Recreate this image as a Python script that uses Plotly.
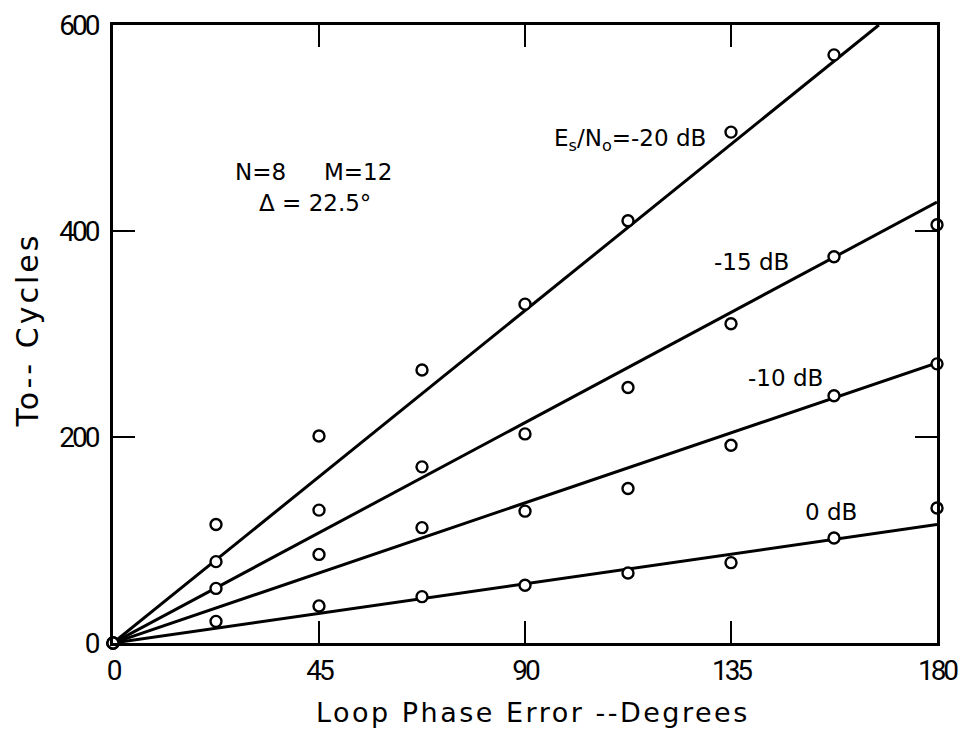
import plotly.graph_objects as go

# Data
phase_deg = [0, 22.5, 45, 67.5, 90, 112.5, 135, 157.5, 180]

to_m20 = [0, 115, 201, 265, 329, 410, 496, 571, 602]
to_m15 = [0, 79, 129, 171, 203, 248, 310, 375, 406]
to_m10 = [0, 53, 86, 112, 128, 150, 192, 240, 271]
to_0 = [0, 21, 36, 45, 56, 68, 78, 102, 131]

series_names = ["-20 dB", "-15 dB", "-10 dB", "0 dB"]
series_values = [to_m20, to_m15, to_m10, to_0]

# Straight-line fits (start and end points)
fit_x = [[0, 167.3], [0, 180], [0, 180], [0, 180]]
fit_y = [[0, 600], [0, 428], [0, 272], [0, 115]]

x_ticks = [0, 45, 90, 135, 180]
y_ticks = [0, 200, 400, 600]


def narrow(s):
    return '<span style="letter-spacing:-3px">' + s + '</span>'


fig = go.Figure()

for name, fx, fy in zip(series_names, fit_x, fit_y):
    fig.add_trace(go.Scatter(x=fx, y=fy, mode="lines",
                             line=dict(color="black", width=3),
                             showlegend=False, hoverinfo="skip"))

for name, vals in zip(series_names, series_values):
    fig.add_trace(go.Scatter(x=phase_deg, y=vals, mode="markers", name=name,
                             marker=dict(symbol="circle", size=11, color="white",
                                         line=dict(color="black", width=2.4)),
                             cliponaxis=False, showlegend=False))

tick_font = dict(family="Roboto", size=28, color="black")
text_font = dict(family="DejaVu Sans", size=23, color="black")

fig.update_layout(
    width=961, height=736,
    margin=dict(l=113, r=24, t=25, b=93),
    paper_bgcolor="white", plot_bgcolor="white",
    showlegend=False,
    xaxis=dict(range=[0, 180], tickvals=x_ticks, ticktext=[narrow(str(v)) for v in x_ticks],
               showgrid=False, zeroline=False, showline=True, linecolor="black",
               linewidth=3, mirror="ticks", ticks="inside", ticklen=22,
               tickwidth=2, tickcolor="black", tickfont=tick_font,
               ticklabelstandoff=0, automargin=False),
    yaxis=dict(range=[0, 600], tickvals=y_ticks, ticktext=[narrow(str(v)) for v in y_ticks],
               showgrid=False, zeroline=False, showline=True, linecolor="black",
               linewidth=3, mirror="ticks", ticks="inside", ticklen=22,
               tickwidth=2, tickcolor="black", tickfont=tick_font,
               ticklabelstandoff=7, automargin=False),
)

# Axis titles
fig.add_annotation(xref="paper", yref="paper", x=0.51, y=-0.112,
                   text='<span style="letter-spacing:2.5px">Loop Phase Error --Degrees</span>',
                   showarrow=False, xanchor="center", yanchor="middle",
                   font=dict(family="DejaVu Sans", size=27, color="black"))
fig.add_annotation(xref="paper", yref="paper", x=-0.104, y=0.506,
                   text='<span style="letter-spacing:3px">To-- Cycles</span>',
                   textangle=-90, showarrow=False, xanchor="center", yanchor="middle",
                   font=dict(family="DejaVu Sans", size=30, color="black"))

annotations = [
    ("N=8", 32.2, 457),
    ("M=12", 53.6, 457),
    ("Δ = 22.5°", 44.2, 427),
    ("E<sub>s</sub>/N<sub>o</sub>=-20 dB", 113, 488),
    ("-15 dB", 139.5, 370),
    ("-10 dB", 147, 257),
    ("0 dB", 156.8, 127),
]
for txt, ax_, ay_ in annotations:
    fig.add_annotation(x=ax_, y=ay_, text=txt, showarrow=False, font=text_font,
                       xanchor="center", yanchor="middle")

fig.write_html("out.html")
